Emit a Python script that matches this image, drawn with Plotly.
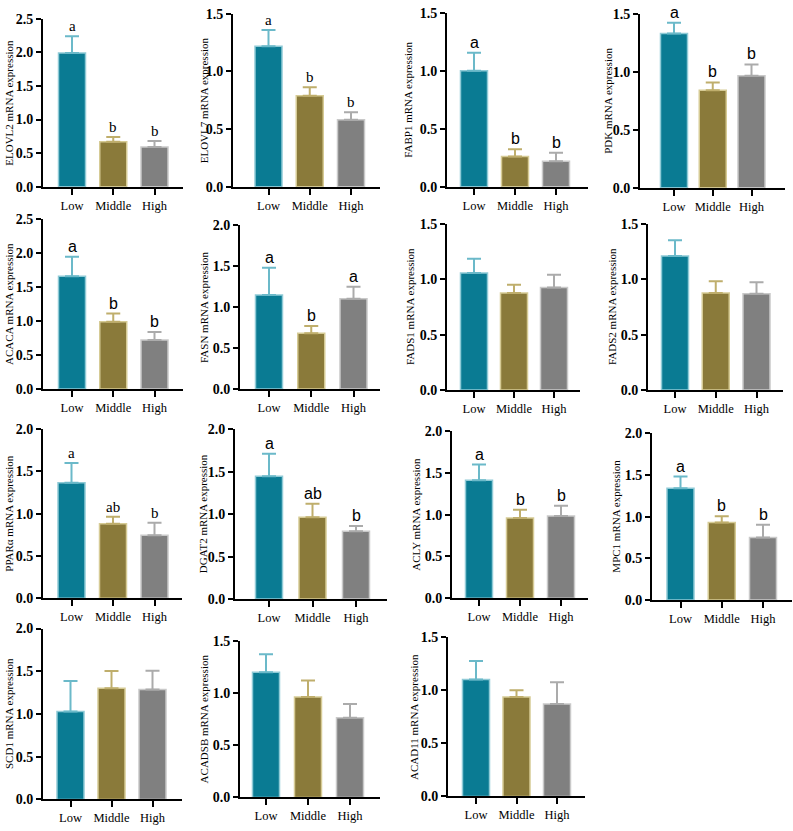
import plotly.graph_objects as go

W, H = 793, 831

groups = ["Low", "Middle", "High"]
genes = ["ELOVL2", "ELOVL7", "FABP1", "PDK", "ACACA", "FASN", "FADS1", "FADS2",
         "PPARα", "DGAT2", "ACLY", "MPC1", "SCD1", "ACADSB", "ACAD11"]

ELOVL2 = [1.99, 0.67, 0.59]
ELOVL7 = [1.22, 0.79, 0.58]
FABP1 = [1.00, 0.26, 0.22]
PDK = [1.33, 0.84, 0.965]
ACACA = [1.66, 0.99, 0.72]
FASN = [1.145, 0.68, 1.10]
FADS1 = [1.057, 0.877, 0.927]
FADS2 = [1.21, 0.876, 0.87]
PPARa = [1.367, 0.88, 0.745]
DGAT2 = [1.448, 0.965, 0.80]
ACLY = [1.412, 0.961, 0.984]
MPC1 = [1.34, 0.931, 0.75]
SCD1 = [1.03, 1.30, 1.287]
ACADSB = [1.202, 0.966, 0.766]
ACAD11 = [1.103, 0.939, 0.872]

ELOVL2_sem = [0.25, 0.07, 0.09]
ELOVL7_sem = [0.14, 0.074, 0.066]
FABP1_sem = [0.156, 0.064, 0.073]
PDK_sem = [0.094, 0.068, 0.099]
ACACA_sem = [0.287, 0.12, 0.12]
FASN_sem = [0.334, 0.087, 0.148]
FADS1_sem = [0.13, 0.074, 0.115]
FADS2_sem = [0.144, 0.107, 0.104]
PPARa_sem = [0.233, 0.083, 0.148]
DGAT2_sem = [0.262, 0.159, 0.061]
ACLY_sem = [0.188, 0.098, 0.122]
MPC1_sem = [0.14, 0.075, 0.154]
SCD1_sem = [0.357, 0.202, 0.219]
ACADSB_sem = [0.175, 0.157, 0.131]
ACAD11_sem = [0.175, 0.062, 0.206]

means = [ELOVL2, ELOVL7, FABP1, PDK, ACACA, FASN, FADS1, FADS2,
         PPARa, DGAT2, ACLY, MPC1, SCD1, ACADSB, ACAD11]
sems = [ELOVL2_sem, ELOVL7_sem, FABP1_sem, PDK_sem, ACACA_sem, FASN_sem, FADS1_sem,
        FADS2_sem, PPARa_sem, DGAT2_sem, ACLY_sem, MPC1_sem, SCD1_sem, ACADSB_sem,
        ACAD11_sem]
letters = [["a", "b", "b"], ["a", "b", "b"], ["a", "b", "b"], ["a", "b", "b"],
           ["a", "b", "b"], ["a", "b", "a"], None, None,
           ["a", "ab", "b"], ["a", "ab", "b"], ["a", "b", "b"], ["a", "b", "b"],
           None, None, None]
ymax = [2.5, 1.5, 1.5, 1.5, 2.5, 2.0, 1.5, 1.5, 2.0, 2.0, 2.0, 2.0, 2.0, 1.5, 1.5]

# layout (page pixels): y-axis x, x-axis end, first/last bar centre, top px, zero px, title x
geom = [
    (43, 183, 72, 154.5, 12, 183, 9),
    (233, 380, 268.5, 351, 7, 183, 204),
    (447, 588, 474, 556, 6, 183, 408),
    (640, 785, 674, 751.5, 7, 184, 608),
    (43, 183, 72, 154.5, 216, 389, 9),
    (240, 380, 269, 353.5, 222, 389, 204),
    (447, 580, 474, 554, 221, 390, 410),
    (648, 783, 675, 756.5, 221, 390, 612),
    (43, 182, 71.5, 154.5, 430, 602, 9),
    (235, 387, 269, 356, 430, 603, 203),
    (452, 588, 479, 561, 432, 602, 416),
    (652, 792, 680.5, 763, 434, 604, 616),
    (43, 182, 70.5, 152.5, 633, 807, 9),
    (240, 380, 266, 350, 646, 805, 204),
    (448, 585, 476, 557, 642, 804, 414),
]
serif_letters = {0, 1, 8}

fill = ["#0a7b93", "#8a7a3a", "#808080"]
edge = ["#8fcad6", "#d6cb95", "#c9c9c9"]
errc = ["#6bb9c9", "#bfae6c", "#ababab"]

SERIF = "Liberation Serif, Times New Roman, serif"
SANS = "Liberation Sans, Arial, sans-serif"


def px(xp):
    return min(1.0, max(0.0, xp / W))


def py(yp):
    return min(1.0, max(0.0, 1 - yp / H))


fig = go.Figure()
annotations = []
layout = {}
for i in range(15):
    xl, xr, c0, c2, ptop, p0, tx = geom[i]
    unit = (c2 - c0) / 2
    r0 = -(c0 - xl) / unit
    r1 = 2 + (xr - c2) / unit
    bw = 27 / unit
    xa = "x" if i == 0 else f"x{i+1}"
    ya = "y" if i == 0 else f"y{i+1}"
    xk = "xaxis" if i == 0 else f"xaxis{i+1}"
    yk = "yaxis" if i == 0 else f"yaxis{i+1}"
    for g in range(3):
        fig.add_trace(go.Bar(
            x=[groups[g]], y=[means[i][g]], width=[bw],
            marker=dict(color=fill[g], line=dict(color=edge[g], width=1.5)),
            error_y=dict(type="data", symmetric=False, array=[sems[i][g]],
                         arrayminus=[0], color=errc[g], thickness=2, width=7),
            xaxis=xa, yaxis=ya, showlegend=False, hoverinfo="skip"))
        if letters[i]:
            serif = i in serif_letters
            annotations.append(dict(
                x=groups[g], y=means[i][g] + sems[i][g], xref=xa, yref=ya,
                text=letters[i][g], showarrow=False, yanchor="bottom", yshift=0,
                font=dict(family=SERIF if serif else SANS, size=15 if serif else 16,
                          color="black")))
    layout[xk] = dict(domain=[px(xl), px(xr)], anchor=ya, range=[r0, r1],
                      type="category", categoryorder="array", categoryarray=groups,
                      showline=True, linecolor="black", linewidth=2,
                      ticks="outside", ticklen=6, tickwidth=2, tickcolor="black",
                      showgrid=False, zeroline=False, fixedrange=True,
                      tickfont=dict(family=SERIF, size=12.5, color="black"))
    layout[yk] = dict(domain=[py(p0), py(ptop)], anchor=xa, range=[0, ymax[i]],
                      dtick=0.5, tickformat=".1f", fixedrange=True,
                      showline=True, linecolor="black", linewidth=2,
                      ticks="outside", ticklen=5, tickwidth=2, tickcolor="black",
                      showgrid=False, zeroline=False,
                      tickfont=dict(family=SERIF, size=14, color="black", weight="bold"))
    annotations.append(dict(
        x=px(tx), y=py((p0 + ptop) / 2), xref="paper", yref="paper",
        text=f"{genes[i]} mRNA expression", textangle=-90, showarrow=False,
        xanchor="center", yanchor="middle",
        font=dict(family=SERIF, size=11, color="black")))

fig.update_layout(width=W, height=H, margin=dict(l=0, r=0, t=0, b=0),
                  paper_bgcolor="white", plot_bgcolor="white", hovermode=False,
                  barmode="overlay", annotations=annotations, **layout)
fig.write_html("out.html", config={"displayModeBar": False},
               post_script="document.body.style.margin='0px';"
                           "document.body.style.overflow='hidden';")
